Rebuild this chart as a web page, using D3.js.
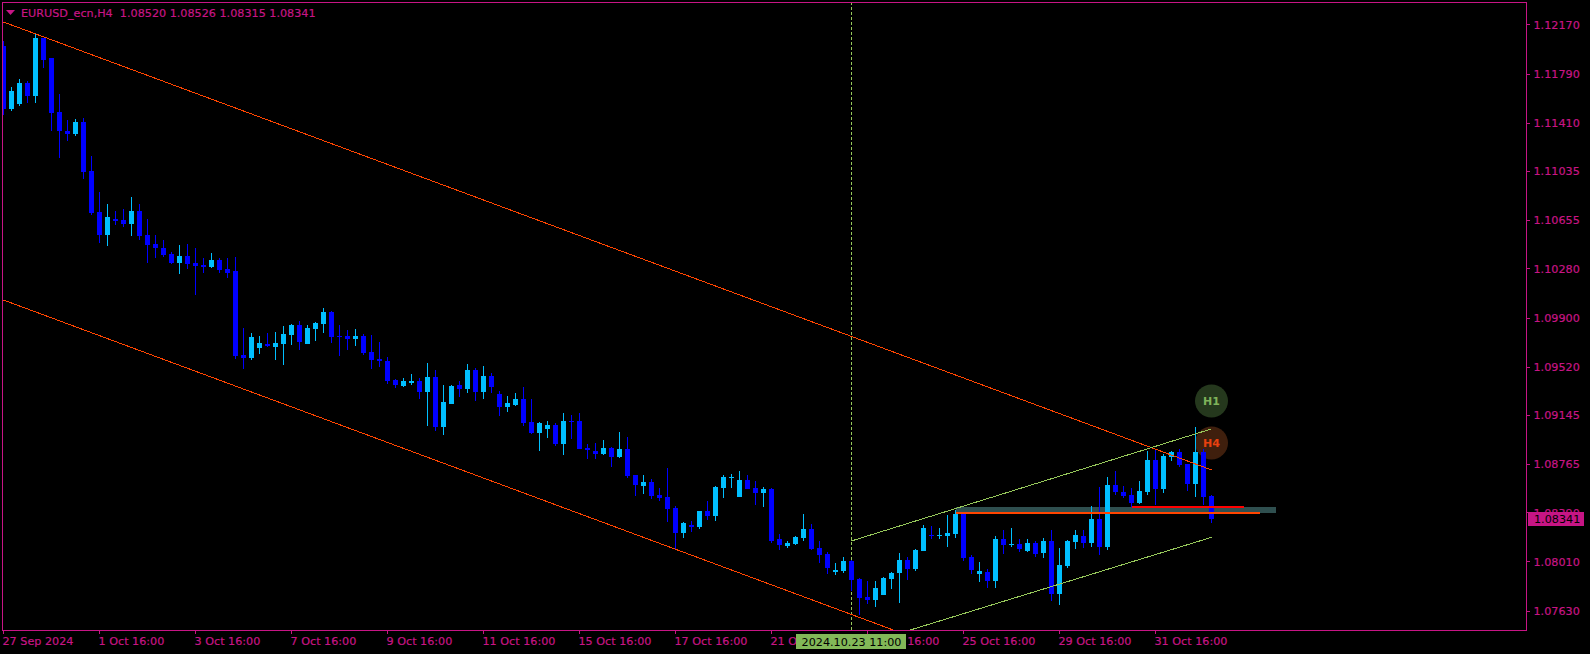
<!DOCTYPE html>
<html>
<head>
<meta charset="utf-8">
<script src="https://cdn.jsdelivr.net/npm/d3@7"></script>
<style>
  html, body { margin: 0; padding: 0; background: #000; overflow: hidden; }
  svg { display: block; }
  text { font-family: "DejaVu Sans", sans-serif; font-size: 11.2px; stroke-width: 0.2px; }
</style>
</head>
<body>
<svg id="chart" width="1590" height="654"></svg>
<script>
// EURUSD H4 candles
const opens = [
  1.12007,1.11519,1.11558,1.11720,1.11620,1.12069,1.11914,1.11496,1.11349,1.11326,
  1.11419,1.11039,1.10721,1.10543,1.10667,1.10659,1.10628,1.10729,1.10543,1.10473,
  1.10442,1.10396,1.10326,1.10380,1.10326,1.10311,1.10295,1.10349,1.10280,1.10264,
  1.09613,1.09590,1.09667,1.09698,1.09675,1.09698,1.09768,1.09846,1.09698,1.09815,
  1.09853,1.09946,1.09760,1.09760,1.09737,1.09760,1.09637,1.09582,1.09567,1.09419,
  1.09373,1.09396,1.09412,1.09327,1.09443,1.09056,1.09234,1.09381,1.09350,1.09497,
  1.09327,1.09451,1.09312,1.09211,1.09226,1.09273,1.09095,1.09010,1.09041,1.09072,
  1.08924,1.09103,1.09103,1.08893,1.08870,1.08847,1.08893,1.08824,1.08886,1.08684,
  1.08599,1.08630,1.08529,1.08513,1.08428,1.08235,1.08297,1.08281,1.08405,1.08366,
  1.08583,1.08661,1.08513,1.08645,1.08583,1.08544,1.08575,1.08188,1.08134,1.08150,
  1.08196,1.08266,1.08119,1.08072,1.07932,1.07940,1.08017,1.07878,1.07738,1.07715,
  1.07754,1.07878,1.07924,1.08025,1.07955,1.08095,1.08219,1.08211,1.08211,1.08227,
  1.08382,1.08048,1.07917,1.07932,1.07862,1.08188,1.08142,1.08150,1.08095,1.08157,
  1.08079,1.08173,1.07762,1.07979,1.08165,1.08211,1.08157,1.08343,1.08126,1.08607,
  1.08552,1.08529,1.08467,1.08552,1.08800,1.08575,1.08824,1.08862,1.08770,1.08615,
  1.08862,1.08520
];
const highs = [
  1.12046,1.11689,1.11751,1.11736,1.12100,1.12069,1.11914,1.11636,1.11434,1.11442,
  1.11450,1.11155,1.10876,1.10783,1.10729,1.10744,1.10837,1.10783,1.10667,1.10543,
  1.10504,1.10411,1.10466,1.10473,1.10442,1.10365,1.10404,1.10365,1.10365,1.10373,
  1.09822,1.09784,1.09760,1.09784,1.09791,1.09838,1.09853,1.09877,1.09846,1.09869,
  1.09977,1.09954,1.09846,1.09807,1.09815,1.09776,1.09768,1.09714,1.09598,1.09427,
  1.09435,1.09466,1.09435,1.09551,1.09497,1.09381,1.09381,1.09412,1.09544,1.09513,
  1.09528,1.09474,1.09335,1.09296,1.09319,1.09366,1.09273,1.09095,1.09103,1.09087,
  1.09165,1.09149,1.09165,1.08924,1.08932,1.08955,1.08901,1.09017,1.08979,1.08684,
  1.08684,1.08653,1.08583,1.08738,1.08444,1.08320,1.08328,1.08405,1.08482,1.08599,
  1.08684,1.08692,1.08715,1.08684,1.08637,1.08591,1.08583,1.08227,1.08173,1.08212,
  1.08382,1.08304,1.08173,1.08087,1.08002,1.08048,1.08025,1.07886,1.07862,1.07862,
  1.07893,1.07932,1.08079,1.08048,1.08111,1.08297,1.08289,1.08273,1.08374,1.08413,
  1.08397,1.08064,1.08010,1.07955,1.08211,1.08258,1.08273,1.08188,1.08188,1.08173,
  1.08196,1.08258,1.08118,1.08180,1.08258,1.08258,1.08444,1.08591,1.08668,1.08715,
  1.08599,1.08583,1.08637,1.08870,1.08878,1.08847,1.08870,1.08886,1.08770,1.09056,
  1.08886,1.08526
];
const lows = [
  1.11473,1.11504,1.11543,1.11566,1.11566,1.11836,1.11349,1.11140,1.11272,1.11310,
  1.10977,1.10698,1.10481,1.10458,1.10621,1.10605,1.10535,1.10504,1.10326,1.10365,
  1.10373,1.10318,1.10241,1.10280,1.10078,1.10249,1.10287,1.10249,1.10210,1.09582,
  1.09505,1.09574,1.09621,1.09675,1.09574,1.09536,1.09691,1.09652,1.09698,1.09722,
  1.09784,1.09706,1.09605,1.09652,1.09683,1.09613,1.09505,1.09520,1.09388,1.09357,
  1.09365,1.09381,1.09273,1.09064,1.09025,1.08994,1.09234,1.09288,1.09319,1.09257,
  1.09273,1.09319,1.09141,1.09172,1.09219,1.09064,1.09002,1.08870,1.08971,1.08909,
  1.08839,1.08963,1.08886,1.08808,1.08808,1.08839,1.08746,1.08816,1.08657,1.08521,
  1.08537,1.08498,1.08482,1.08320,1.08111,1.08196,1.08242,1.08266,1.08335,1.08328,
  1.08506,1.08583,1.08513,1.08575,1.08451,1.08436,1.08158,1.08103,1.08119,1.08142,
  1.08173,1.08103,1.08002,1.07917,1.07909,1.07924,1.07785,1.07599,1.07684,1.07661,
  1.07754,1.07800,1.07692,1.07870,1.07940,1.08095,1.08188,1.08188,1.08126,1.08196,
  1.08017,1.07917,1.07855,1.07808,1.07808,1.08072,1.08126,1.08087,1.08087,1.08048,
  1.08041,1.07707,1.07676,1.07963,1.08111,1.08119,1.08126,1.08064,1.08103,1.08529,
  1.08506,1.08436,1.08459,1.08529,1.08451,1.08544,1.08793,1.08746,1.08560,1.08513,
  1.08451,1.08315
];
const closes = [
  1.11519,1.11658,1.11720,1.11620,1.12069,1.11898,1.11489,1.11349,1.11326,1.11419,
  1.11031,1.10714,1.10543,1.10683,1.10652,1.10628,1.10729,1.10535,1.10466,1.10442,
  1.10388,1.10326,1.10380,1.10318,1.10303,1.10295,1.10349,1.10272,1.10249,1.09605,
  1.09590,1.09753,1.09706,1.09683,1.09706,1.09776,1.09846,1.09714,1.09822,1.09861,
  1.09946,1.09753,1.09753,1.09737,1.09760,1.09629,1.09574,1.09567,1.09412,1.09381,
  1.09412,1.09412,1.09327,1.09443,1.09056,1.09250,1.09373,1.09350,1.09497,1.09327,
  1.09451,1.09365,1.09211,1.09242,1.09273,1.09087,1.09010,1.09087,1.09072,1.08924,
  1.09103,1.09095,1.08886,1.08878,1.08847,1.08893,1.08824,1.08886,1.08676,1.08607,
  1.08630,1.08521,1.08506,1.08420,1.08235,1.08312,1.08281,1.08405,1.08366,1.08591,
  1.08668,1.08668,1.08645,1.08575,1.08544,1.08575,1.08173,1.08142,1.08157,1.08204,
  1.08266,1.08111,1.08064,1.07963,1.07948,1.08017,1.07870,1.07731,1.07715,1.07808,
  1.07886,1.07924,1.08025,1.07955,1.08103,1.08273,1.08211,1.08219,1.08235,1.08382,
  1.08041,1.07948,1.07940,1.07862,1.08188,1.08142,1.08150,1.08111,1.08157,1.08072,
  1.08173,1.07762,1.07986,1.08173,1.08219,1.08157,1.08343,1.08126,1.08607,1.08552,
  1.08521,1.08467,1.08560,1.08800,1.08575,1.08831,1.08862,1.08762,1.08615,1.08862,
  1.08513,1.08341
];

const priceTicks = [1.12170,1.11790,1.11410,1.11035,1.10655,1.10280,1.09900,1.09520,1.09145,1.08765,1.08390,1.08010,1.07630];
const timeTickIndex = [0,12,24,36,48,60,72,84,96,108,120,132,144];
const timeTickLabels = ['27 Sep 2024','1 Oct 16:00','3 Oct 16:00','7 Oct 16:00','9 Oct 16:00','11 Oct 16:00','15 Oct 16:00','17 Oct 16:00','21 Oct 16:00','23 Oct 16:00','25 Oct 16:00','29 Oct 16:00','31 Oct 16:00'];

// trend lines as [candle index, price] pairs
const orangeUpper = [[0,1.12193],[151,1.08723]];
const orangeLower = [[0,1.10039],[151,1.06569]];
const greenUpper = [[106,1.08173],[151,1.09041]];
const greenLower = [[106,1.07343],[151,1.08201]];

const zoneBand = { from: 119, to: 159, top: 1.08436, bottom: 1.08390 };
const redLevel = { from: 141, to: 155, price: 1.08436 };
const orangeLevel = { from: 119, to: 157, price: 1.08390 };
const badges = [
  { label: 'H1', index: 151, price: 1.09257, fill: '#25381d', color: '#7fb35a' },
  { label: 'H4', index: 151, price: 1.08932, fill: '#3f1f0d', color: '#e8410f' }
];

const crossIndex = 106;
const crossLabel = '2024.10.23 11:00';
const titleText = 'EURUSD_ecn,H4  1.08520 1.08526 1.08315 1.08341';
const lastPrice = closes[closes.length - 1];

const FRAME = { left: 2, top: 2, right: 1526, bottom: 630 };
const AXIS_COLOR = '#c71585';
const UP_COLOR = '#00bfff';
const DOWN_COLOR = '#0000ff';
const ORANGE = '#ff4500';
const GREEN = '#96c85a';

const svg = d3.select('#chart');

// background
svg.append('rect').attr('width', 1590).attr('height', 654).attr('fill', '#000');

const xScale = d3.scaleLinear().domain([0, 190.25]).range([3.5, 1525.5]);
const yScale = d3.scaleLinear().domain([1.07483, 1.12348]).range([FRAME.bottom, FRAME.top]);
const py = p => Math.round(yScale(p));

svg.append('clipPath').attr('id', 'plot-clip').append('rect')
  .attr('x', FRAME.left).attr('y', FRAME.top)
  .attr('width', FRAME.right - FRAME.left).attr('height', FRAME.bottom - FRAME.top);

const plot = svg.append('g').attr('clip-path', 'url(#plot-clip)');

// H1 / H4 circles sit behind the candles
const badgeG = plot.selectAll('g.badge').data(badges).enter().append('g').attr('class', 'badge')
  .attr('transform', d => `translate(${xScale(d.index)},${yScale(d.price)})`);
badgeG.append('circle').attr('r', 16.5).attr('fill', d => d.fill);

// support zone under the candles
plot.append('rect')
  .attr('x', xScale(zoneBand.from))
  .attr('y', py(zoneBand.top))
  .attr('width', xScale(zoneBand.to) - xScale(zoneBand.from))
  .attr('height', py(zoneBand.bottom) - py(zoneBand.top))
  .attr('fill', '#2f4f4f')
  .attr('shape-rendering', 'crispEdges');

// crosshair
plot.append('line')
  .attr('x1', xScale(crossIndex)).attr('x2', xScale(crossIndex))
  .attr('y1', FRAME.top).attr('y2', FRAME.bottom)
  .attr('stroke', GREEN).attr('stroke-dasharray', '3 2')
  .attr('shape-rendering', 'crispEdges');

// candles
const candles = d3.range(opens.length);
const candleColor = i => closes[i] >= opens[i] ? UP_COLOR : DOWN_COLOR;
plot.selectAll('rect.wick').data(candles).enter().append('rect')
  .attr('class', 'wick')
  .attr('x', i => xScale(i) - 0.5)
  .attr('y', i => py(highs[i]))
  .attr('width', 1)
  .attr('height', i => py(lows[i]) - py(highs[i]))
  .attr('fill', candleColor)
  .attr('shape-rendering', 'crispEdges');
plot.selectAll('rect.body').data(candles).enter().append('rect')
  .attr('class', 'body')
  .attr('x', i => xScale(i) - 2.5)
  .attr('y', i => py(Math.max(opens[i], closes[i])))
  .attr('width', 5)
  .attr('height', i => Math.max(1, py(Math.min(opens[i], closes[i])) - py(Math.max(opens[i], closes[i]))))
  .attr('fill', candleColor)
  .attr('shape-rendering', 'crispEdges');

// badge captions go over the circles, lines go over the candles
badgeG.append('text')
  .attr('text-anchor', 'middle').attr('dy', '0.36em')
  .attr('fill', d => d.color)
  .attr('font-weight', 'bold')
  .style('font-size', '11px')
  .text(d => d.label);

const trend = d3.line().x(d => xScale(d[0])).y(d => yScale(d[1]));
[[orangeUpper, ORANGE], [orangeLower, ORANGE], [greenUpper, GREEN], [greenLower, GREEN]].forEach(([pts, color]) => {
  plot.append('path').attr('d', trend(pts)).attr('fill', 'none').attr('stroke', color).attr('stroke-width', 1)
    .attr('shape-rendering', 'crispEdges');
});

[[redLevel, '#ff0000'], [orangeLevel, ORANGE]].forEach(([lvl, color]) => {
  plot.append('rect')
    .attr('x', xScale(lvl.from))
    .attr('y', py(lvl.price) - 1)
    .attr('width', xScale(lvl.to) - xScale(lvl.from))
    .attr('height', 2)
    .attr('fill', color)
    .attr('shape-rendering', 'crispEdges');
});

// frame
svg.append('rect')
  .attr('x', FRAME.left + 0.5).attr('y', FRAME.top + 0.5)
  .attr('width', FRAME.right - FRAME.left).attr('height', FRAME.bottom - FRAME.top)
  .attr('fill', 'none').attr('stroke', AXIS_COLOR).attr('shape-rendering', 'crispEdges');

// price axis
const yAxis = svg.append('g')
  .attr('transform', `translate(${FRAME.right + 0.5},0)`)
  .call(d3.axisRight(yScale).tickValues(priceTicks).tickFormat(d => d.toFixed(5)).tickSize(3).tickPadding(4).offset(0));
yAxis.select('.domain').remove();
yAxis.selectAll('line').attr('stroke', AXIS_COLOR).attr('shape-rendering', 'crispEdges');
yAxis.selectAll('text').attr('fill', AXIS_COLOR).attr('stroke', AXIS_COLOR);
yAxis.attr('font-family', null).attr('font-size', null);

// time axis
const xAxis = svg.append('g')
  .attr('transform', `translate(0,${FRAME.bottom + 0.5})`)
  .call(d3.axisBottom(xScale).tickValues(timeTickIndex).tickFormat((d, i) => timeTickLabels[i]).tickSize(3).tickPadding(4).offset(0));
xAxis.select('.domain').remove();
xAxis.selectAll('line').attr('stroke', AXIS_COLOR).attr('shape-rendering', 'crispEdges');
xAxis.selectAll('text').attr('fill', AXIS_COLOR).attr('stroke', AXIS_COLOR).attr('text-anchor', 'start').attr('x', -1);
xAxis.attr('font-family', null).attr('font-size', null);

// title
svg.append('path').attr('d', 'M6,10 L15,10 L10.5,15 Z').attr('fill', AXIS_COLOR);
svg.append('text').attr('x', 21).attr('y', 17).attr('fill', AXIS_COLOR).attr('stroke', AXIS_COLOR).attr('xml:space', 'preserve').style('white-space', 'pre').text(titleText);

// last price tag
svg.append('rect').attr('x', 1528).attr('y', py(lastPrice) - 7).attr('width', 56).attr('height', 14).attr('fill', AXIS_COLOR);
svg.append('text').attr('x', 1534).attr('y', py(lastPrice)).attr('dy', '0.36em').attr('fill', '#000').text(lastPrice.toFixed(5));

// crosshair time tag
svg.append('rect').attr('x', 796).attr('y', 634).attr('width', 110).attr('height', 15).attr('fill', '#82b858');
svg.append('text').attr('x', xScale(crossIndex)).attr('y', 641.5).attr('dy', '0.36em').attr('text-anchor', 'middle').attr('fill', '#000').text(crossLabel);
</script>
</body>
</html>
